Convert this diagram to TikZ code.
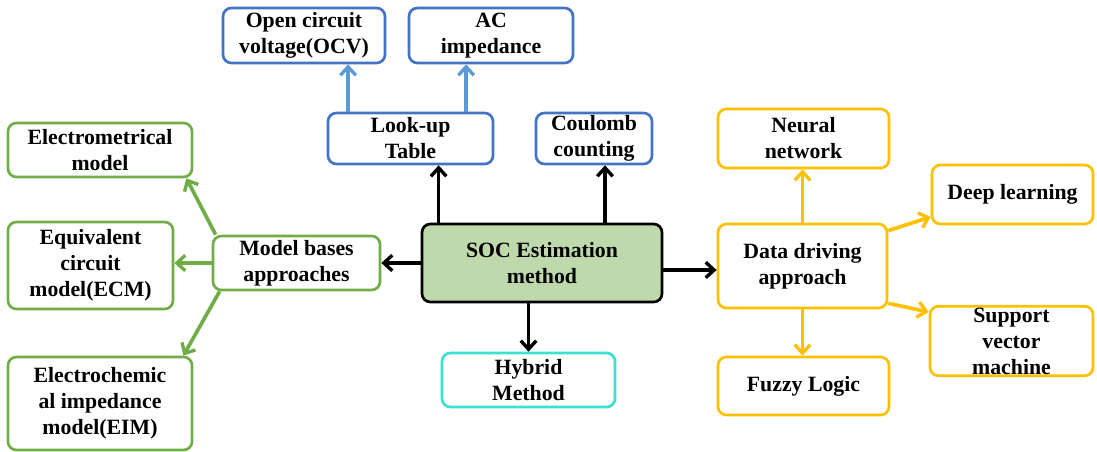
\documentclass[tikz,border=0pt]{standalone}
\usepackage{fontspec}
\setmainfont{Liberation Serif}
\usepackage{tikz}
\usepackage{xcolor}
\usetikzlibrary{arrows.meta}

\definecolor{socfill}{RGB}{190,218,172}
\definecolor{mgreen}{RGB}{112,173,71}
\definecolor{mblue}{RGB}{68,114,196}
\definecolor{lblue}{RGB}{91,155,213}
\definecolor{morange}{RGB}{255,192,0}
\definecolor{mcyan}{RGB}{60,225,210}

\begin{document}
\begin{tikzpicture}[x=0.025cm,y=-0.025cm,
		box/.style={draw,rounded corners=6pt,line width=1.9pt,align=center,
			font=\fontsize{15.5}{18.5}\selectfont\bfseries,inner sep=1pt},
		arr/.style={line width=2.6pt,-{Straight Barb[length=6pt,width=11pt,line width=2.4pt]}}]
		%\draw[help lines] (0,0) grid (1097,452);
		\useasboundingbox (0,0) rectangle (1097,452);

		% centre
		\node[box,fill=socfill,minimum width=6cm,minimum height=1.95cm] (soc) at (542,263) {SOC Estimation\\method};

		% look-up table branch
		\node[box,draw=mblue,minimum width=4.125cm,minimum height=1.275cm] (lut) at (410.5,138.5) {Look-up\\Table};
		\node[box,draw=mblue,minimum width=2.9cm,minimum height=1.275cm] (cc) at (594,138.5) {Coulomb\\counting};
		\node[box,draw=mblue,minimum width=4.05cm,minimum height=1.375cm] (ocv) at (304,35.5) {Open circuit\\voltage(OCV)};
		\node[box,draw=mblue,minimum width=4.1cm,minimum height=1.375cm] (ac) at (491,35.5) {AC\\impedance};

		% model branch
		\node[box,draw=mgreen,minimum width=4.175cm,minimum height=1.35cm] (mba) at (296.5,263) {Model bases\\approaches};
		\node[box,draw=mgreen,minimum width=4.6cm,minimum height=1.35cm] (em) at (100,150) {Electrometrical\\model};
		\node[box,draw=mgreen,minimum width=4.125cm,minimum height=2.175cm] (ecm) at (90.5,265.5) {Equivalent\\circuit\\model(ECM)};
		\node[box,draw=mgreen,minimum width=4.6cm,minimum height=2.325cm] (eim) at (100,403.5) {Electrochemic\\al impedance\\model(EIM)};

		% hybrid
		\node[box,draw=mcyan,minimum width=4.325cm,minimum height=1.35cm] (hyb) at (528.5,380) {Hybrid\\Method};

		% data branch
		\node[box,draw=morange,minimum width=4.225cm,minimum height=2.1cm] (dda) at (802.5,266) {Data driving\\approach};
		\node[box,draw=morange,minimum width=4.275cm,minimum height=1.475cm] (nn) at (803.5,138.5) {Neural\\network};
		\node[box,draw=morange,minimum width=4.025cm,minimum height=1.475cm] (dl) at (1012.5,194.5) {Deep learning};
		\node[box,draw=morange,minimum width=4.075cm,minimum height=1.7cm] (svm) at (1011.5,341) {Support\\vector\\machine};
		\node[box,draw=morange,minimum width=4.275cm,minimum height=1.45cm] (fl) at (803.5,386) {Fuzzy Logic};

		% black arrows
		\draw[arr] (soc.west) -- (mba.east);
		\draw[arr] ([yshift=-0.175cm]soc.east) -- ([yshift=-0.175cm]soc.east -| dda.west);
		\draw[arr] ([xshift=0.45cm]soc.north west) -- ([xshift=0.45cm]soc.north west |- lut.south);
		\draw[arr] ([xshift=0.275cm]cc.south |- soc.north) -- ([xshift=0.275cm]cc.south);
		\draw[arr] (hyb.north |- soc.south) -- (hyb.north);

		% blue arrows
		\draw[arr,lblue] ([xshift=-1.56cm]lut.north) -- ([xshift=-1.56cm]lut.north |- ocv.south);
		\draw[arr,lblue] ([xshift=1.39cm]lut.north) -- ([xshift=1.39cm]lut.north |- ac.south);

		% green arrows
		\draw[arr,mgreen] ([xshift=0.1cm]mba.north west) -- ([xshift=-0.175cm]em.south east);
		\draw[arr,mgreen] (mba.west) -- (mba.west -| ecm.east);
		\draw[arr,mgreen] ([xshift=0.2cm]mba.south west) -- ([xshift=-0.25cm]eim.north east);

		% orange arrows
		\draw[arr,morange] (dda.north) -- (dda.north |- nn.south);
		\draw[arr,morange] (dda.south) -- (dda.south |- fl.north);
		\draw[arr,morange] ([yshift=-0.2cm]dda.north east) -- ([yshift=-0.56cm]dl.west);
		\draw[arr,morange] ([yshift=0.15cm]dda.south east) -- ([yshift=0.725cm]svm.west);
\end{tikzpicture}
\end{document}
